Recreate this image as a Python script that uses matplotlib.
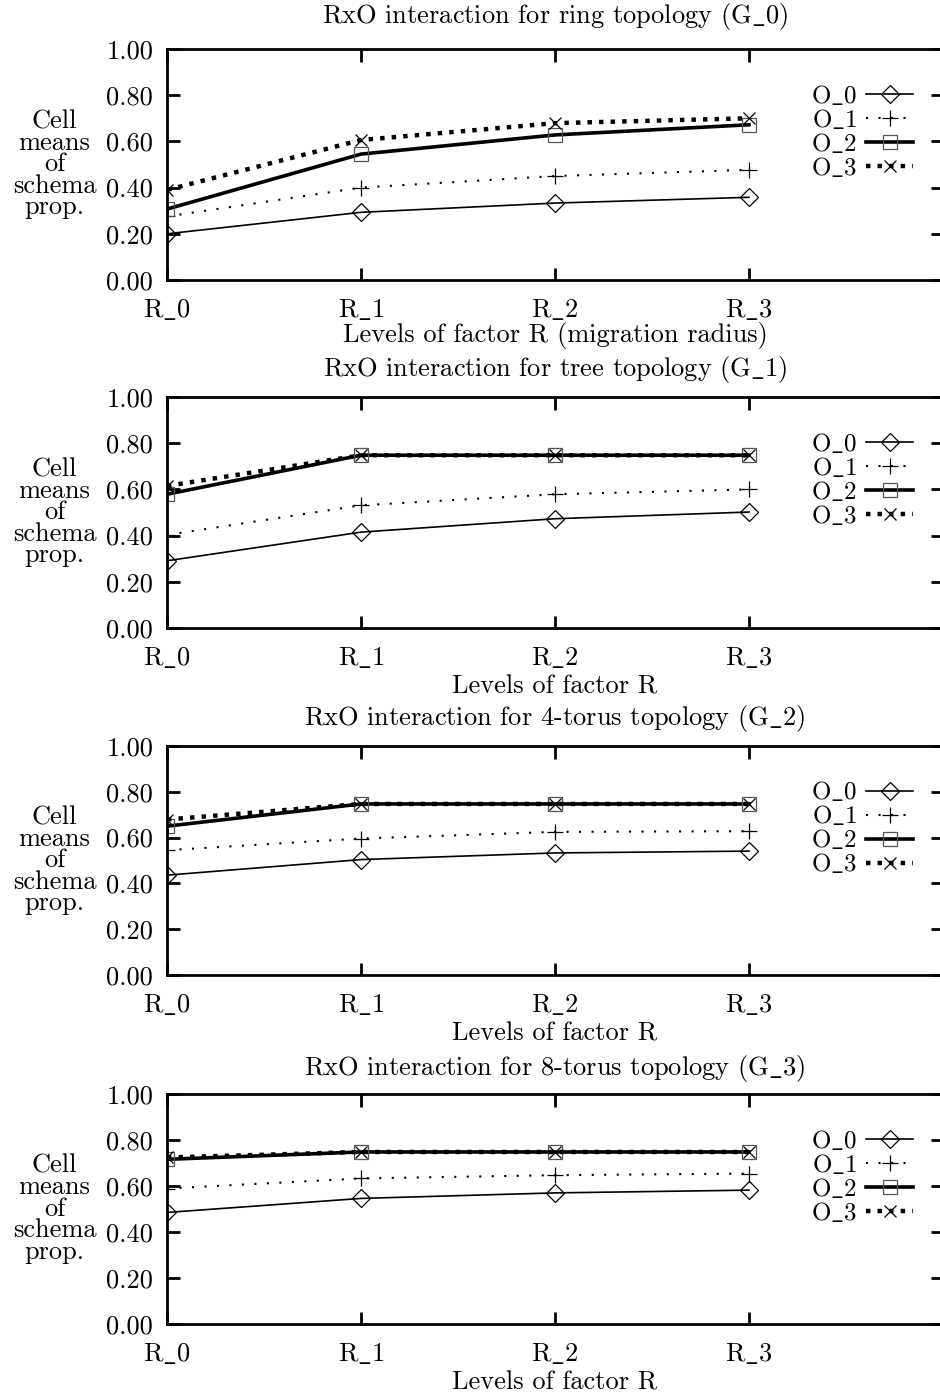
import matplotlib
matplotlib.use("Agg")
import matplotlib.pyplot as plt

plt.rcParams['font.family'] = ['cmr10', 'DejaVu Serif']
plt.rcParams['mathtext.fontset'] = 'cm'
plt.rcParams['axes.formatter.use_mathtext'] = True

levels = ["R_0", "R_1", "R_2", "R_3"]
series_names = ["O_0", "O_1", "O_2", "O_3"]
yticks = [0.0, 0.2, 0.4, 0.6, 0.8, 1.0]
ytick_labels = ["0.00", "0.20", "0.40", "0.60", "0.80", "1.00"]

titles = [
    "RxO interaction for ring topology (G_0)",
    "RxO interaction for tree topology (G_1)",
    "RxO interaction for 4-torus topology (G_2)",
    "RxO interaction for 8-torus topology (G_3)",
]
xlabels = [
    "Levels of factor R (migration radius)",
    "Levels of factor R",
    "Levels of factor R",
    "Levels of factor R",
]
ylabel_text = "Cell\nmeans\nof\nschema\nprop."

# cell means per panel: O_0, O_1, O_2, O_3
g0_o0 = [0.20, 0.293, 0.333, 0.358]
g0_o1 = [0.275, 0.40, 0.45, 0.477]
g0_o2 = [0.307, 0.545, 0.628, 0.672]
g0_o3 = [0.39, 0.606, 0.679, 0.70]

g1_o0 = [0.291, 0.415, 0.473, 0.502]
g1_o1 = [0.403, 0.531, 0.579, 0.60]
g1_o2 = [0.579, 0.748, 0.748, 0.748]
g1_o3 = [0.615, 0.748, 0.748, 0.748]

g2_o0 = [0.436, 0.504, 0.533, 0.541]
g2_o1 = [0.545, 0.596, 0.625, 0.628]
g2_o2 = [0.650, 0.747, 0.747, 0.747]
g2_o3 = [0.679, 0.747, 0.747, 0.747]

g3_o0 = [0.485, 0.546, 0.570, 0.582]
g3_o1 = [0.589, 0.633, 0.647, 0.654]
g3_o2 = [0.716, 0.748, 0.748, 0.748]
g3_o3 = [0.724, 0.748, 0.748, 0.748]

panels = [
    [g0_o0, g0_o1, g0_o2, g0_o3],
    [g1_o0, g1_o1, g1_o2, g1_o3],
    [g2_o0, g2_o1, g2_o2, g2_o3],
    [g3_o0, g3_o1, g3_o2, g3_o3],
]


def tex(s):
    # render the LaTeX-style underscore as a real low bar
    return s.replace("_", r"$\_$")


styles = [
    dict(ls='-', lw=1.2, marker='D', ms=9, mfc='none', mec='black', mew=0.9),
    dict(ls=(0, (1, 5)), lw=1.5, marker='+', ms=12, mec='black', mew=0.9),
    dict(ls='-', lw=2.6, marker='s', ms=10, mfc='none', mec='#555555', mew=0.9),
    dict(ls=(0, (1, 1.6)), lw=3.2, marker='x', ms=9, mec='black', mew=0.9),
]

fig = plt.figure(figsize=(9.4, 13.96), dpi=100)
W, H = 940.0, 1396.0
left_px, right_px = 167, 943
tops = [49, 397, 746, 1094]
bottoms = [280, 628, 975, 1324]
title_pads = [19, 15, 15, 14]
xlabel_pads = [0, 4, 4, 4]

fs = 19
for i in range(4):
    ax = fig.add_axes([left_px / W, 1 - bottoms[i] / H,
                       (right_px - left_px) / W, (bottoms[i] - tops[i]) / H])
    x = list(range(len(levels)))
    for j, ys in enumerate(panels[i]):
        ax.plot(x, ys, color='black', label=tex(series_names[j]), **styles[j])
    ax.set_xlim(0, 4)
    ax.set_ylim(0, 1)
    ax.set_xticks(x)
    ax.set_xticklabels([tex(s) for s in levels], fontsize=fs)
    ax.set_yticks(yticks)
    ax.set_yticklabels(ytick_labels, fontsize=fs)
    ax.tick_params(direction='in', length=9, width=2, top=True, right=True)
    ax.tick_params(axis='x', pad=12)
    ax.tick_params(axis='y', pad=10)
    for s in ax.spines.values():
        s.set_linewidth(2)
    ax.set_title(tex(titles[i]), fontsize=fs, pad=title_pads[i])
    ax.set_xlabel(xlabels[i], fontsize=fs, labelpad=xlabel_pads[i])
    ax.set_ylabel(ylabel_text, fontsize=fs, rotation=0,
                  ha='center', va='center', linespacing=0.88)
    ax.yaxis.set_label_coords(-0.145, 0.5)
    ax.legend(loc='upper left', bbox_to_anchor=(0.83, 0.85),
              frameon=False, markerfirst=False, fontsize=18,
              handlelength=1.9, handletextpad=0.35, labelspacing=0.0,
              borderpad=0, borderaxespad=0)

fig.savefig("out.png", dpi=100)
